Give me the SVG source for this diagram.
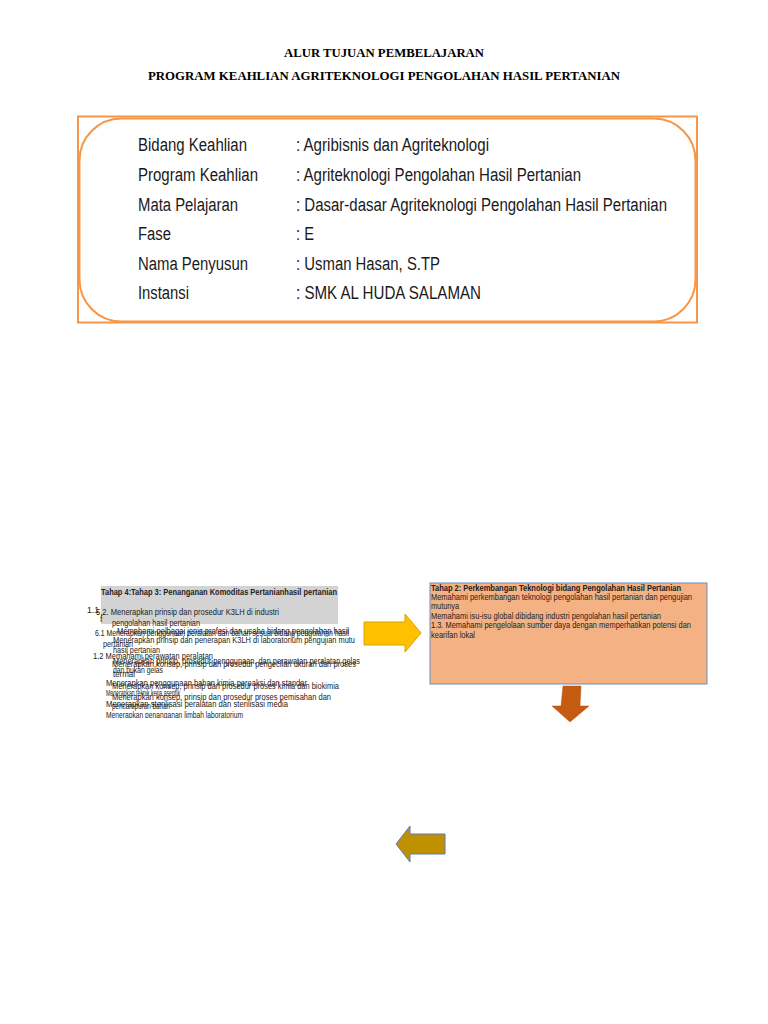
<svg xmlns="http://www.w3.org/2000/svg" width="768" height="1024" viewBox="0 0 768 1024">
<style>
.title{font-family:"Liberation Serif",serif;font-weight:bold;font-size:13px;fill:#000;text-anchor:middle}
.info{font-family:"Liberation Sans",Arial,sans-serif;font-size:18px;fill:#1a1a1a}
.sm{font-family:"Liberation Sans",Arial,sans-serif;font-size:8.6px;fill:#222}
.smb{font-family:"Liberation Sans",Arial,sans-serif;font-size:8.6px;font-weight:bold;fill:#222}
</style>
<defs>
<clipPath id="clipL"><rect x="80" y="580" width="300" height="138"/></clipPath>
</defs>
<rect width="768" height="1024" fill="#fff"/>
<g id="header">
<text class="title" x="384" y="57" textLength="200" lengthAdjust="spacingAndGlyphs">ALUR TUJUAN PEMBELAJARAN</text>
<text class="title" x="384" y="80" textLength="472" lengthAdjust="spacingAndGlyphs">PROGRAM KEAHLIAN AGRITEKNOLOGI PENGOLAHAN HASIL PERTANIAN</text>
</g>
<g id="info-box">
<rect x="78" y="116.5" width="619" height="206" fill="none" stroke="#F79646" stroke-width="2"/>
<rect x="79.5" y="118.5" width="616" height="203" rx="42" fill="#fff" stroke="#F79646" stroke-width="2"/>
<text class="info" x="138" y="151" textLength="109" lengthAdjust="spacingAndGlyphs">Bidang Keahlian</text>
<text class="info" x="296" y="151" textLength="193" lengthAdjust="spacingAndGlyphs">: Agribisnis dan Agriteknologi</text>
<text class="info" x="138" y="181" textLength="120" lengthAdjust="spacingAndGlyphs">Program Keahlian</text>
<text class="info" x="296" y="181" textLength="285" lengthAdjust="spacingAndGlyphs">: Agriteknologi Pengolahan Hasil Pertanian</text>
<text class="info" x="138" y="211" textLength="100" lengthAdjust="spacingAndGlyphs">Mata Pelajaran</text>
<text class="info" x="296" y="211" textLength="371" lengthAdjust="spacingAndGlyphs">: Dasar-dasar Agriteknologi Pengolahan Hasil Pertanian</text>
<text class="info" x="138" y="240" textLength="33" lengthAdjust="spacingAndGlyphs">Fase</text>
<text class="info" x="296" y="240" textLength="18" lengthAdjust="spacingAndGlyphs">: E</text>
<text class="info" x="138" y="270" textLength="110" lengthAdjust="spacingAndGlyphs">Nama Penyusun</text>
<text class="info" x="296" y="270" textLength="144" lengthAdjust="spacingAndGlyphs">: Usman Hasan, S.TP</text>
<text class="info" x="138" y="299" textLength="51" lengthAdjust="spacingAndGlyphs">Instansi</text>
<text class="info" x="296" y="299" textLength="185" lengthAdjust="spacingAndGlyphs">: SMK AL HUDA SALAMAN</text>
</g>
<g id="tahap4-3" clip-path="url(#clipL)">
<rect x="101" y="586" width="237" height="38" fill="#D3D3D3"/>
<text class="smb" x="101" y="595" textLength="236" lengthAdjust="spacingAndGlyphs">Tahap 4:Tahap 3: Penanganan Komoditas Pertanianhasil pertanian</text>
<text class="sm" x="87" y="613" textLength="12" lengthAdjust="spacingAndGlyphs">1.1</text>
<text class="sm" x="96" y="615" textLength="183" lengthAdjust="spacingAndGlyphs">5.2. Menerapkan prinsip dan prosedur K3LH di industri</text>
<text class="sm" x="100" y="622">f</text>
<text class="sm" x="112" y="626" textLength="88" lengthAdjust="spacingAndGlyphs">pengolahan hasil pertanian</text>
<text class="sm" x="95" y="636" textLength="254" lengthAdjust="spacingAndGlyphs">6.1 Menerapkan penggunaan peralatan dan bahan sesuai bidang pengolahan hasil</text>
<text class="sm" x="117" y="634" textLength="232" lengthAdjust="spacingAndGlyphs">Memahami pelbagai jenis profesi dan usaha bidang pengolahan hasil</text>
<text class="sm" x="113" y="643" textLength="242" lengthAdjust="spacingAndGlyphs">Menerapkan prinsip dan penerapan K3LH di laboratorium pengujian mutu</text>
<text class="sm" x="103" y="647" textLength="30" lengthAdjust="spacingAndGlyphs">pertanian</text>
<text class="sm" x="113" y="653" textLength="47" lengthAdjust="spacingAndGlyphs">hasil pertanian</text>
<text class="sm" x="93" y="659" textLength="120" lengthAdjust="spacingAndGlyphs">1.2 Memahami perawatan peralatan</text>
<text class="sm" x="113" y="664" textLength="247" lengthAdjust="spacingAndGlyphs">Menerapkan prinsip, prosedur penggunaan, dan perawatan peralatan gelas</text>
<text class="sm" x="112" y="667" textLength="244" lengthAdjust="spacingAndGlyphs">Menerapkan konsep, prinsip dan prosedur pengecilan ukuran dan proses</text>
<text class="sm" x="113" y="673" textLength="50" lengthAdjust="spacingAndGlyphs">dan bukan gelas</text>
<text class="sm" x="113" y="677" textLength="22" lengthAdjust="spacingAndGlyphs">termal</text>
<text class="sm" x="106" y="686" textLength="201" lengthAdjust="spacingAndGlyphs">Menerapkan penggunaan bahan kimia pereaksi dan standar</text>
<text class="sm" x="112" y="689" textLength="227" lengthAdjust="spacingAndGlyphs">Menerapkan konsep, prinsip dan prosedur proses kimia dan biokimia</text>
<text class="sm" x="106" y="696" textLength="74" lengthAdjust="spacingAndGlyphs">Menerapkan teknik kerja aseptik</text>
<text class="sm" x="112" y="700" textLength="219" lengthAdjust="spacingAndGlyphs">Menerapkan konsep, prinsip dan prosedur proses pemisahan dan</text>
<text class="sm" x="106" y="707" textLength="182" lengthAdjust="spacingAndGlyphs">Menerapkan sterilisasi peralatan dan sterilisasi media</text>
<text class="sm" x="112" y="709" textLength="58" lengthAdjust="spacingAndGlyphs">pencampuran bahan</text>
<text class="sm" x="106" y="718" textLength="137" lengthAdjust="spacingAndGlyphs">Menerapkan penanganan limbah laboratorium</text>
</g>
<g id="tahap2">
<rect x="430" y="583" width="277" height="101" fill="#F4B183" stroke="#6C8EBF" stroke-width="1"/>
<text class="smb" x="431" y="591" textLength="250" lengthAdjust="spacingAndGlyphs">Tahap 2: Perkembangan Teknologi bidang Pengolahan Hasil Pertanian</text>
<text class="sm" x="431" y="600" textLength="261" lengthAdjust="spacingAndGlyphs">Memahami perkembangan teknologi pengolahan hasil pertanian dan pengujian</text>
<text class="sm" x="431" y="609" textLength="28" lengthAdjust="spacingAndGlyphs">mutunya</text>
<text class="sm" x="431" y="619" textLength="230" lengthAdjust="spacingAndGlyphs">Memahami isu-isu global dibidang industri pengolahan hasil pertanian</text>
<text class="sm" x="431" y="628" textLength="260" lengthAdjust="spacingAndGlyphs">1.3. Memahami pengelolaan sumber daya dengan memperhatikan potensi dan</text>
<text class="sm" x="431" y="638" textLength="44" lengthAdjust="spacingAndGlyphs">kearifan lokal</text>
</g>
<g id="connectors">
<polygon points="364,622 405,622 405,614 421,633 405,652 405,645 364,645" fill="#FFC000" stroke="#D9A400" stroke-width="1"/>
<polygon points="563,686 581,686 580,706 589,706 570,722 552,706 561,706" fill="#C55A11" stroke="#B65410" stroke-width="0.5"/>
<polygon points="445,834 410,834 410,826 396,844 410,862 410,854 445,854" fill="#BF9000" stroke="#5B7DB5" stroke-width="1"/>
</g>
</svg>
